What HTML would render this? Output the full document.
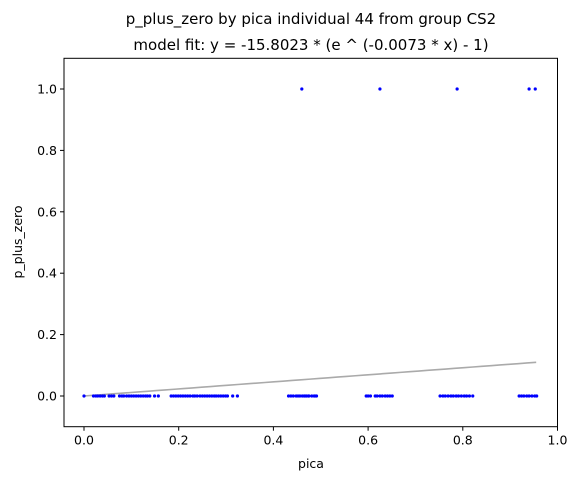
<!DOCTYPE html>
<html><head><meta charset="utf-8"><style>
body{margin:0;background:#fff}
svg{font-family:"DejaVu Sans","Liberation Sans",sans-serif}
</style></head><body>
<svg id="c" width="578" height="480">
<text x="311" y="24" text-anchor="middle" font-size="15">p_plus_zero by pica individual 44 from group CS2</text>
<text x="311" y="50" text-anchor="middle" font-size="15">model fit: y = -15.8023 * (e ^ (-0.0073 * x) - 1)</text>
<text x="311" y="468" text-anchor="middle" font-size="12.5">pica</text>
<text transform="translate(22,242) rotate(-90)" text-anchor="middle" font-size="12.5">p_plus_zero</text>
<g id="g"></g>
</svg>
<script>
const zeroX=[0.000,0.020,0.025,0.029,0.034,0.039,0.043,0.053,0.058,0.063,0.075,0.080,0.084,0.090,0.095,0.100,0.105,0.110,0.115,0.120,0.125,0.130,0.134,0.139,0.149,0.157,0.184,0.189,0.194,0.199,0.204,0.209,0.214,0.219,0.224,0.230,0.234,0.239,0.245,0.250,0.255,0.260,0.265,0.270,0.275,0.279,0.284,0.289,0.294,0.299,0.303,0.314,0.324,0.432,0.437,0.442,0.448,0.452,0.456,0.461,0.465,0.470,0.475,0.481,0.486,0.491,0.467,0.474,0.488,0.596,0.600,0.605,0.615,0.619,0.625,0.630,0.636,0.641,0.646,0.651,0.752,0.758,0.763,0.769,0.775,0.780,0.786,0.791,0.797,0.803,0.808,0.814,0.821,0.919,0.924,0.929,0.935,0.940,0.946,0.952,0.956];
const oneX=[0.460,0.625,0.788,0.940,0.953];
const xTicks=[0,0.2,0.4,0.6,0.8,1.0];
const yTicks=[0,0.2,0.4,0.6,0.8,1.0];
const fitA=-15.8023, fitB=-0.0073, fitMax=0.955;
const L=64,R=557.5,T=58.3,B=426.7;
const sx=v=>84+v*473.5, sy=v=>396-v*307;
const g=document.getElementById('g');const NS='http://www.w3.org/2000/svg';
function mk(t,a){const e=document.createElementNS(NS,t);for(const k in a)e.setAttribute(k,a[k]);g.appendChild(e);return e;}
// fit line
let d='';for(let i=0;i<=50;i++){const x=fitMax*i/50;const y=fitA*(Math.exp(fitB*x)-1);d+=(i?'L':'M')+sx(x).toFixed(2)+','+sy(y).toFixed(2);}
const fl=mk('path',{d:d,stroke:'#aaaaaa','stroke-width':1.6,fill:'none'});


zeroX.forEach(x=>{const c=mk('circle',{cx:sx(x),cy:sy(0),r:1.6,fill:'#0000ff'});

});
oneX.forEach(x=>{const c=mk('circle',{cx:sx(x),cy:sy(1),r:1.6,fill:'#0000ff'});

});
const fr=mk('rect',{x:L,y:T,width:R-L,height:B-T,fill:'none',stroke:'#000','stroke-width':1});


xTicks.forEach(v=>{mk('line',{x1:sx(v),x2:sx(v),y1:B,y2:B+4,stroke:'#000'});
const t=mk('text',{x:sx(v),y:B+18,'text-anchor':'middle','font-size':12.5});t.textContent=v.toFixed(1);

});
yTicks.forEach(v=>{mk('line',{x1:L-4,x2:L,y1:sy(v),y2:sy(v),stroke:'#000'});
const t=mk('text',{x:L-7,y:sy(v)+4.5,'text-anchor':'end','font-size':12.5});t.textContent=v.toFixed(1);

});
</script>
</body></html>
